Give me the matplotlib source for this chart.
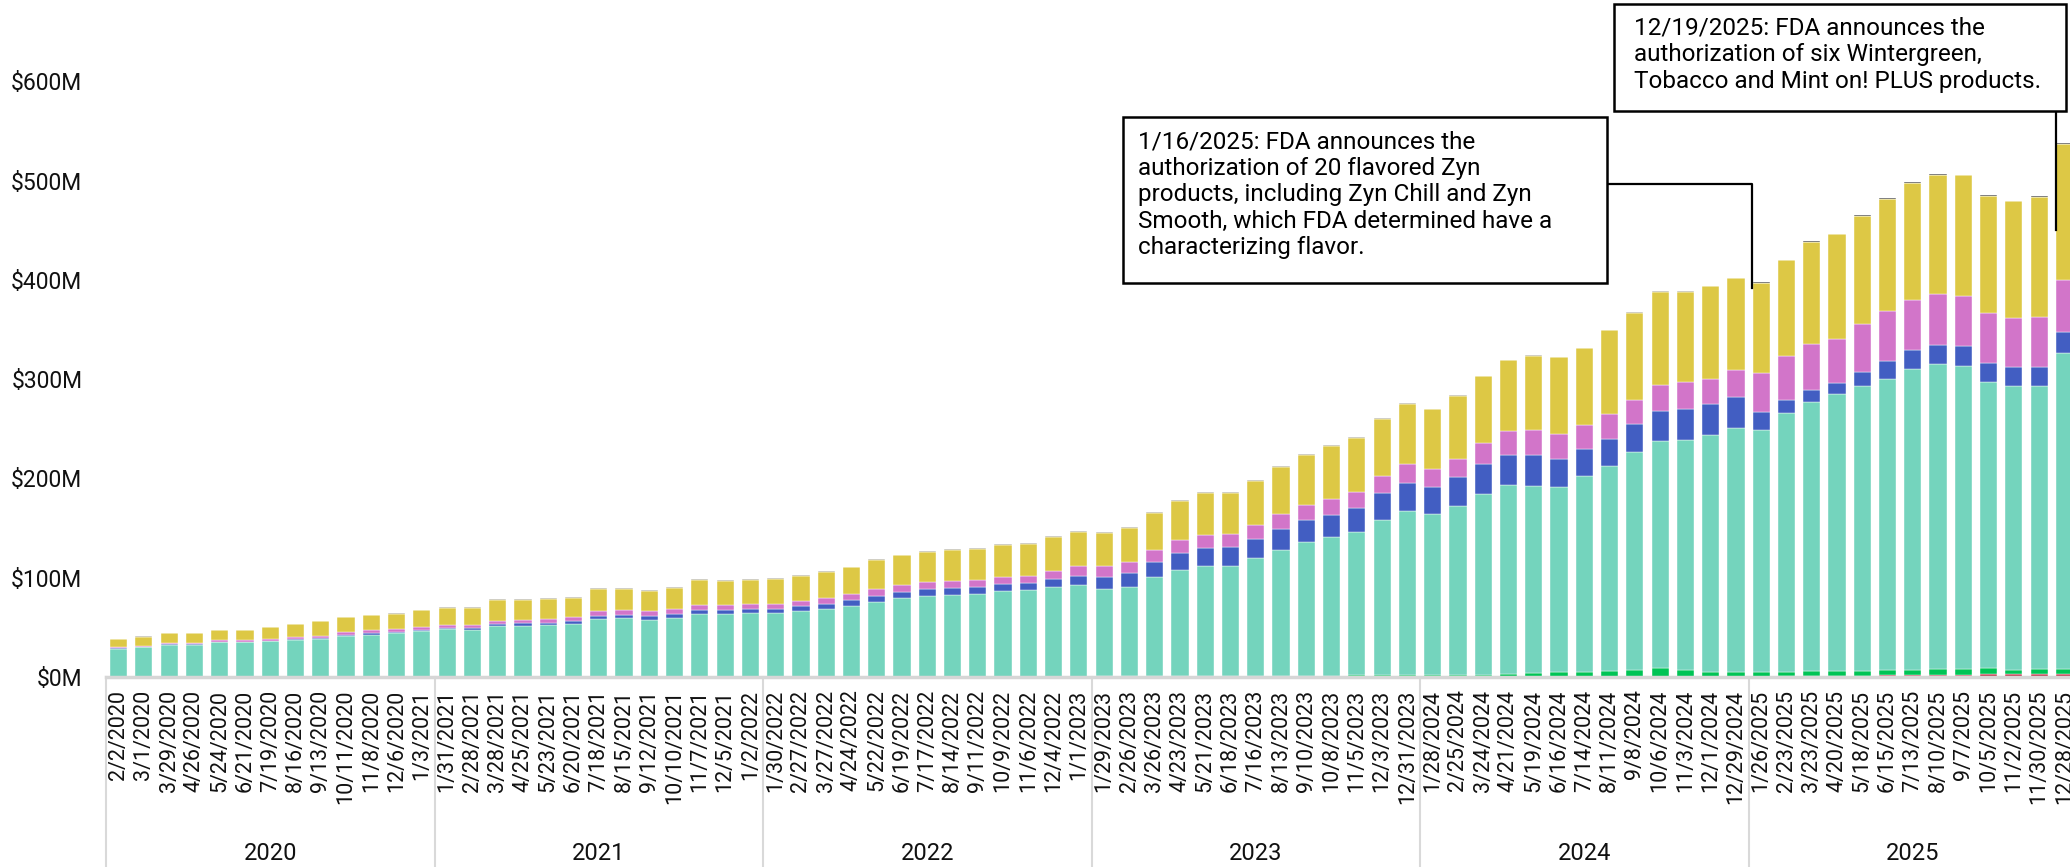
import numpy as np
import matplotlib.pyplot as plt
import matplotlib.transforms as mtransforms
from matplotlib.patches import Rectangle

plt.rcParams['font.family'] = ['Roboto', 'DejaVu Sans']

# 4-week periods, grouped by year
dates = [
    "2/2/2020", "3/1/2020", "3/29/2020", "4/26/2020", "5/24/2020", "6/21/2020", "7/19/2020",
    "8/16/2020", "9/13/2020", "10/11/2020", "11/8/2020", "12/6/2020", "1/3/2021",
    "1/31/2021", "2/28/2021", "3/28/2021", "4/25/2021", "5/23/2021", "6/20/2021", "7/18/2021",
    "8/15/2021", "9/12/2021", "10/10/2021", "11/7/2021", "12/5/2021", "1/2/2022",
    "1/30/2022", "2/27/2022", "3/27/2022", "4/24/2022", "5/22/2022", "6/19/2022", "7/17/2022",
    "8/14/2022", "9/11/2022", "10/9/2022", "11/6/2022", "12/4/2022", "1/1/2023",
    "1/29/2023", "2/26/2023", "3/26/2023", "4/23/2023", "5/21/2023", "6/18/2023", "7/16/2023",
    "8/13/2023", "9/10/2023", "10/8/2023", "11/5/2023", "12/3/2023", "12/31/2023",
    "1/28/2024", "2/25/2024", "3/24/2024", "4/21/2024", "5/19/2024", "6/16/2024", "7/14/2024",
    "8/11/2024", "9/8/2024", "10/6/2024", "11/3/2024", "12/1/2024", "12/29/2024",
    "1/26/2025", "2/23/2025", "3/23/2025", "4/20/2025", "5/18/2025", "6/15/2025", "7/13/2025",
    "8/10/2025", "9/7/2025", "10/5/2025", "11/2/2025", "11/30/2025", "12/28/2025",
]
years = ["2020", "2021", "2022", "2023", "2024", "2025"]
per_year = 13

# sales in $M, bottom to top
red = [0] * 65 + [0.3, 0.8, 1.0, 1.3, 1.5, 2.0, 2.0, 2.5, 2.5, 3.0, 3.0, 3.5, 3.5]
green = [0] * 29 + [0.4] * 10 + [
    0.7, 0.7, 0.7, 0.7, 0.7, 0.7, 1.3, 1.5, 1.5, 1.5, 2.0, 2.0, 2.5,
    1.8, 2.0, 2.5, 3.3, 4.4, 5.1, 5.1, 5.9, 7.0, 8.8, 6.6, 5.5, 4.8,
    5.0, 4.5, 5.0, 4.9, 5.0, 5.0, 5.3, 5.5, 5.5, 6.0, 4.5, 4.5, 5.0,
]
teal = [
    28.6, 30.2, 32.6, 32.6, 34.9, 34.9, 36.0, 37.3, 38.6, 41.3, 42.7, 44.0, 46.0,
    48.1, 47.4, 51.1, 51.7, 52.8, 53.8, 58.8, 59.5, 57.8, 59.8, 63.8, 63.8, 64.2,
    64.2, 66.5, 68.2, 71.2, 75.5, 79.2, 81.3, 82.6, 83.3, 86.3, 87.0, 90.7, 92.3,
    88.3, 90.4, 99.8, 106.8, 111.5, 111.5, 118.3, 126.2, 134.3, 139.3, 143.8, 156.3, 165.2,
    162.1, 170.3, 181.6, 190.0, 188.1, 186.7, 197.3, 206.8, 219.3, 229.2, 232.5, 238.7, 246.0,
    243.4, 260.2, 271.1, 278.4, 286.6, 293.6, 303.1, 307.3, 305.5, 288.1, 285.6, 285.1, 317.4,
]
blue = [
    0.2, 0.3, 0.4, 0.4, 0.5, 0.6, 0.6, 0.8, 1.0, 1.0, 1.3, 1.3, 1.7,
    1.6, 2.0, 2.0, 2.4, 2.0, 2.7, 3.0, 2.7, 3.7, 3.7, 3.4, 4.1, 4.3,
    4.3, 4.7, 5.7, 6.4, 6.1, 6.4, 7.0, 7.1, 7.4, 7.4, 7.4, 8.0, 9.5,
    12.1, 13.7, 15.8, 17.2, 18.2, 18.8, 19.8, 21.8, 22.8, 22.8, 24.6, 26.9, 28.2,
    27.5, 29.0, 30.4, 30.4, 30.8, 28.2, 27.5, 27.1, 28.9, 30.1, 31.2, 31.2, 31.2,
    18.2, 13.8, 12.4, 11.6, 14.2, 17.8, 19.1, 19.5, 20.0, 19.1, 19.5, 19.5, 21.3,
]
pink = [
    1.1, 1.0, 1.2, 1.0, 1.4, 1.6, 1.6, 1.9, 2.0, 3.0, 3.0, 2.7, 2.7,
    2.7, 3.0, 3.7, 3.7, 4.0, 4.0, 4.4, 5.0, 4.7, 5.0, 5.0, 4.3, 5.1,
    4.8, 5.1, 5.4, 5.3, 6.4, 6.4, 6.7, 6.7, 6.3, 6.7, 6.7, 7.8, 9.4,
    10.8, 11.1, 12.1, 13.4, 13.1, 13.5, 13.8, 14.5, 15.1, 15.8, 16.1, 16.8, 18.8,
    18.4, 18.7, 21.3, 24.2, 25.3, 24.6, 23.5, 25.3, 23.5, 26.4, 26.4, 25.3, 27.1,
    39.5, 44.4, 45.8, 44.8, 48.8, 50.2, 50.6, 50.6, 50.6, 50.6, 49.3, 49.7, 52.9,
]
yellow = [
    8.4, 9.1, 10.1, 10.0, 10.4, 10.4, 11.8, 13.4, 14.8, 15.1, 15.5, 15.8, 16.8,
    17.5, 17.5, 20.8, 20.2, 19.8, 19.5, 22.8, 21.8, 20.5, 21.2, 25.6, 24.6, 24.2,
    25.5, 25.2, 26.2, 27.2, 29.9, 30.2, 30.6, 30.9, 31.3, 32.3, 32.6, 33.9, 34.2,
    32.9, 34.3, 37.3, 39.0, 41.7, 40.7, 44.0, 47.4, 50.1, 53.1, 54.1, 57.7, 60.2,
    59.7, 63.5, 67.1, 71.1, 74.5, 77.4, 77.7, 84.0, 88.0, 93.1, 90.9, 92.8, 92.4,
    91.0, 95.9, 103.0, 104.8, 108.8, 112.7, 117.2, 120.8, 121.2, 118.1, 117.2, 121.3, 136.8,
]
gray = [0.3] * 13 + [0.8] * 52 + [0] * 13
black = [0] * 65 + [0.9] * 13

series = [red, green, teal, blue, pink, yellow, gray, black]
colors = ["#C0364B", "#00C455", "#74D4BD", "#425EC2", "#D275C9", "#DDC845", "#9C9A82", "#2b2b2b"]

notes = [
    "1/16/2025: FDA announces the\nauthorization of 20 flavored Zyn\nproducts, including Zyn Chill and Zyn\nSmooth, which FDA determined have a\ncharacterizing flavor.",
    "12/19/2025: FDA announces the\nauthorization of six Wintergreen,\nTobacco and Mint on! PLUS products.",
]

W, H = 2070, 867
fig = plt.figure(figsize=(W / 100, H / 100), dpi=100)
ax = fig.add_axes([106 / W, (H - 677) / H, (W - 106) / W, 677 / H])

x = np.arange(len(dates))
bottom = np.zeros(len(dates))
for vals, c in zip(series, colors):
    vals = np.array(vals, dtype=float)
    ax.bar(x, vals, 0.68, bottom=bottom, color=c, edgecolor="white", linewidth=0.3, zorder=2)
    bottom += vals

ax.set_xlim(-0.5, -0.5 + (W - 106) / 25.27)
ax.set_ylim(0, 682)

ax.set_yticks(range(0, 700, 100))
ax.set_yticklabels([f"${v}M" for v in range(0, 700, 100)])
ax.tick_params(axis="y", length=0, pad=17, labelsize=16.5, labelcolor="#111111")
ax.set_xticks(x)
ax.set_xticklabels(dates)
ax.tick_params(axis="x", length=0, pad=9, labelsize=15.5, labelrotation=90, labelcolor="#111111")

for s in ["top", "right", "left"]:
    ax.spines[s].set_visible(False)
ax.spines["bottom"].set_color("#d6d6d6")
ax.spines["bottom"].set_linewidth(2.5)

# year grouping under the date labels
trans = mtransforms.blended_transform_factory(ax.transData, ax.transAxes)
for i, yr in enumerate(years):
    left = i * per_year - 0.5
    ax.plot([left, left], [0, -0.3], transform=trans, color="#d9d9d9", lw=1.5, clip_on=False)
    ax.text(left + per_year / 2, -0.26, yr, transform=trans, ha="center", va="center",
            fontsize=17, color="#111111")

# annotations: fixed boxes with leader lines
ax.plot([58.0, 64.64, 64.64], [497, 497, 392], color="black", lw=1.6, zorder=3)
ax.add_patch(Rectangle((39.75, 397.2), 58.90 - 39.75, 564.5 - 397.2, facecolor="white",
                       edgecolor="black", lw=1.8, zorder=4))
ax.text(40.34, 551, notes[0], ha="left", va="top", fontsize=17.5, linespacing=1.2, zorder=5)

ax.plot([76.68, 76.68], [600, 450.6], color="black", lw=1.6, zorder=3)
ax.add_patch(Rectangle((59.18, 570.6), 77.06 - 59.18, 678.4 - 570.6, facecolor="white",
                       edgecolor="black", lw=1.8, zorder=4, clip_on=False))
ax.text(59.97, 665, notes[1], ha="left", va="top", fontsize=17.5, linespacing=1.2, zorder=5)

fig.savefig("out.png", dpi=100)
